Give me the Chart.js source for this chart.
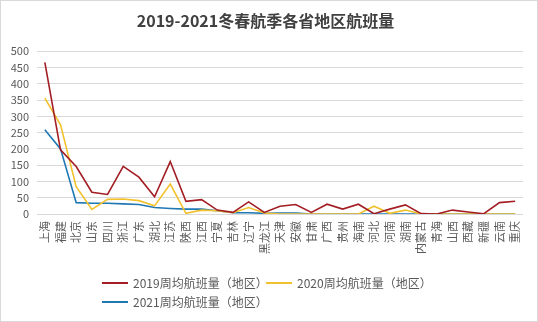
<!DOCTYPE html>
<html>
<head>
<meta charset="utf-8">
<script src="https://cdn.jsdelivr.net/npm/chart.js@4"></script>
<style>
    body { margin: 0; background: #fff; }
    #wrap { position: relative; width: 538px; height: 322px; }
    #frame { position: absolute; left: 0; top: 0; width: 538px; height: 322px; box-sizing: border-box; border: 1px solid #d9d9d9; pointer-events: none; }
    #legend { position: absolute; left: 102px; top: 274px; width: 400px; font: 12px "Noto Sans CJK SC", sans-serif; color: #595959; }
    .item { position: absolute; display: flex; align-items: center; white-space: nowrap; }
    .item span.line { display: inline-block; width: 26px; height: 2px; margin-right: 5px; }
</style>
</head>
<body>
<div id="wrap">
    <canvas id="chart" width="538" height="322"></canvas>
    <div id="legend"></div>
    <div id="frame"></div>
</div>
<script>
// --- Data ---
const provinces = ['上海', '福建', '北京', '山东', '四川', '浙江', '广东', '湖北', '江苏', '陕西', '江西', '宁夏', '吉林', '辽宁', '黑龙江', '天津', '安徽', '甘肃', '广西', '贵州', '海南', '河北', '河南', '湖南', '内蒙古', '青海', '山西', '西藏', '新疆', '云南', '重庆'];
const flights2019 = [466, 197, 146, 67, 60, 146, 113, 53, 161, 39, 44, 12, 5, 37, 5, 24, 29, 5, 30, 15, 30, 1, 15, 28, 1, 0, 12, 6, 1, 35, 39];
const flights2020 = [356, 274, 84, 14, 45, 46, 41, 25, 92, 2, 12, 10, 4, 20, 3, 0, 0, 0, 0, 0, 0, 24, 2, 12, 0, 0, 0, 0, 0, 0, 0];
const flights2021 = [259, 200, 35, 33, 33, 31, 29, 20, 17, 15, 15, 10, 4, 4, 2, 3, 3, 0, 0, 0, 0, 0, 0, 0, 0, 0, 0, 0, 0, 0, 0];
const seriesNames = ['2019周均航班量（地区）', '2020周均航班量（地区）', '2021周均航班量（地区）'];
const seriesColors = ['#A31D24', '#F2C12E', '#1F77B4'];

const font = '"Noto Sans CJK SC", "Noto Sans", sans-serif';

const ctx = document.getElementById('chart').getContext('2d');
const chart = new Chart(ctx, {
    type: 'line',
    data: {
        labels: provinces,
        datasets: [flights2019, flights2020, flights2021].map((d, i) => ({
            label: seriesNames[i],
            data: d,
            borderColor: seriesColors[i],
            backgroundColor: seriesColors[i],
            borderWidth: 1.6,
            pointRadius: 0,
            tension: 0
        }))
    },
    options: {
        responsive: false,
        animation: false,
        layout: { padding: { left: 8, right: 15, top: 0, bottom: 55 } },
        plugins: {
            legend: { display: false },
            tooltip: { enabled: false },
            title: {
                display: true,
                text: '2019-2021冬春航季各省地区航班量',
                color: '#404040',
                font: { family: font, size: 16, weight: 'bold' },
                padding: { top: 11, bottom: 21 }
            }
        },
        scales: {
            x: {
                offset: true,
                grid: { display: false, drawTicks: false },
                border: { display: false },
                ticks: {
                    color: '#595959',
                    font: { family: font, size: 11 },
                    minRotation: 90,
                    maxRotation: 90,
                    autoSkip: false,
                    padding: 7
                },
                afterFit: (scale) => { scale.height = 53; }
            },
            y: {
                min: 0,
                max: 500,
                grid: { color: '#d9d9d9', drawTicks: false },
                border: { display: false },
                ticks: {
                    stepSize: 50,
                    autoSkip: false,
                    color: '#595959',
                    font: { family: font, size: 11 },
                    padding: 8
                },
                afterFit: (scale) => { scale.width = 29; }
            }
        }
    }
});

// Excel-style legend: two columns, rows filled left to right
const legend = document.getElementById('legend');
seriesNames.forEach((name, i) => {
    const item = document.createElement('div');
    item.className = 'item';
    item.style.left = (i % 2) * 164 + 'px';
    item.style.top = Math.floor(i / 2) * 19 + 'px';
    item.innerHTML = `<span class="line" style="background:${seriesColors[i]}"></span>${name}`;
    legend.appendChild(item);
});
</script>
</body>
</html>
